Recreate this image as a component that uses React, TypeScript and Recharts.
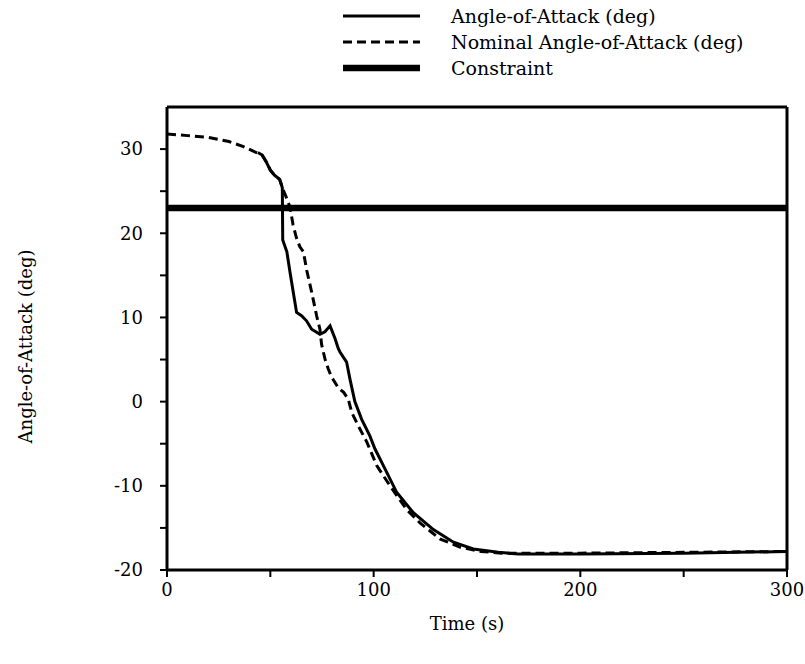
import React from "react";
import {
  LineChart,
  Line,
  XAxis,
  YAxis,
  Label,
  ReferenceLine,
} from "recharts";

// Time histories of angle-of-attack during the pull-down (deg vs s)
const actualTime = [
  44, 46, 48, 50, 52, 54.5, 55.8, 56, 58, 59.5, 61.1, 62.7, 65.1, 67.5, 70,
  74, 76.4, 78.9, 81.3, 82.9, 83.7, 86.9, 88.5, 90.9, 94.2, 98.2, 100.6,
  104.7, 111.2, 119.2, 128.9, 138.6, 148.2, 160.3, 170, 200, 250, 300,
];
const actualAoa = [
  29.6, 29.3, 28.5, 27.5, 26.9, 26.4, 25.4, 19.2, 17.8, 15.4, 13.0, 10.6,
  10.2, 9.6, 8.6, 8.0, 8.3, 9.0, 7.5, 6.3, 5.9, 4.7, 2.7, 0.0, -2.1, -4.1,
  -5.6, -7.6, -10.8, -13.2, -15.2, -16.7, -17.5, -17.9, -18.1, -18.1, -18.0,
  -17.8,
];

const nominalTime = [
  0, 10, 20, 30, 37, 43, 46, 48, 50, 52, 54.5, 56, 58, 59.5, 61, 62.7, 64.3,
  66, 67.6, 70, 72.4, 74, 74.8, 76.4, 78, 79.7, 83, 85.5, 87.7, 89.4, 92.6,
  96.7, 101.5, 107.9, 115.9, 122.4, 132, 142, 152, 162, 200, 250, 300,
];
const nominalAoa = [
  31.8, 31.6, 31.4, 30.9, 30.3, 29.6, 29.3, 28.5, 27.5, 26.9, 26.4, 25.3,
  24.1, 23.1, 21.0, 19.4, 18.4, 17.8, 15.6, 13.0, 10.2, 8.6, 6.8, 5.1, 3.9,
  2.9, 1.6, 1.1, 0.3, -1.3, -2.9, -4.8, -7.6, -10.0, -12.8, -14.4, -16.3,
  -17.3, -17.8, -18.0, -18.0, -17.9, -17.8,
];

const constraintTime = [0, 300];
const constraintAoa = [23, 23];

const xTicks = [0, 50, 100, 150, 200, 250, 300];
const yTicks = [-20, -15, -10, -5, 0, 5, 10, 15, 20, 25, 30];
const xDomain = [0, 300];
const yDomain = [-20, 35];

const seriesNames = [
  "Angle-of-Attack (deg)",
  "Nominal Angle-of-Attack (deg)",
  "Constraint",
];

const toRows = (ts: number[], vs: number[]) =>
  ts.map((t, i) => ({ t, v: vs[i] }));

const actualRows = toRows(actualTime, actualAoa);
const nominalRows = toRows(nominalTime, nominalAoa);
const constraintRows = toRows(constraintTime, constraintAoa);

const FONT = "'DejaVu Serif', serif";
const INK = "#000";

const lineStyles = [
  { strokeWidth: 3, dash: undefined as string | undefined },
  { strokeWidth: 3, dash: "9 5" },
  { strokeWidth: 6.5, dash: undefined as string | undefined },
];

function KeyBox() {
  return (
    <svg
      width={805}
      height={90}
      style={{ position: "absolute", left: 0, top: 0 }}
    >
      {seriesNames.map((name, i) => {
        const y = 16 + i * 26;
        const s = lineStyles[i];
        return (
          <g key={name}>
            <line
              x1={343}
              x2={420}
              y1={y}
              y2={y}
              stroke={INK}
              strokeWidth={s.strokeWidth}
              strokeDasharray={s.dash}
            />
            <text
              x={451}
              y={y}
              dy="0.35em"
              fontFamily={FONT}
              fontSize={19}
              fill={INK}
            >
              {name}
            </text>
          </g>
        );
      })}
    </svg>
  );
}

const tickStyle = { fontFamily: FONT, fontSize: 18, fill: INK };
const axisStroke = { stroke: INK, strokeWidth: 3 };

export default function App() {
  return (
    <div
      style={{
        position: "absolute",
        left: 0,
        top: 0,
        width: 805,
        height: 664,
        background: "#fff",
      }}
    >
      <LineChart
        width={805}
        height={664}
        margin={{ top: 107, right: 18, bottom: 54, left: 107 }}
      >
        <XAxis
          dataKey="t"
          type="number"
          domain={xDomain}
          ticks={xTicks}
          tickFormatter={(v: number) => (v % 100 === 0 ? String(v) : "")}
          tick={tickStyle}
          tickSize={7}
          tickMargin={6}
          tickLine={{ stroke: INK, strokeWidth: 2 }}
          axisLine={axisStroke}
          height={40}
          allowDataOverflow
        >
          <Label
            value="Time (s)"
            position="bottom"
            offset={7}
            dx={-10}
            style={{ fontFamily: FONT, fontSize: 18, fill: INK }}
          />
        </XAxis>
        <YAxis
          type="number"
          domain={yDomain}
          ticks={yTicks}
          tickFormatter={(v: number) => (v % 10 === 0 ? String(v) : "")}
          tick={tickStyle}
          tickSize={7}
          tickMargin={17}
          tickLine={{ stroke: INK, strokeWidth: 2 }}
          axisLine={axisStroke}
          width={60}
          allowDataOverflow
        >
          <Label
            content={(props: any) => {
              const vb = props.viewBox || { x: 107, y: 107, height: 463 };
              const cx = vb.x - 82;
              const cy = vb.y + vb.height / 2 + 8;
              return (
                <text
                  x={cx}
                  y={cy}
                  transform={`rotate(-90, ${cx}, ${cy})`}
                  textAnchor="middle"
                  dominantBaseline="central"
                  fontFamily={FONT}
                  fontSize={18}
                  fill={INK}
                >
                  Angle-of-Attack (deg)
                </text>
              );
            }}
          />
        </YAxis>
        {/* closing frame on top and right */}
        <ReferenceLine y={yDomain[1]} stroke={INK} strokeWidth={3} />
        <ReferenceLine x={xDomain[1]} stroke={INK} strokeWidth={3} />
        <Line
          data={constraintRows}
          dataKey="v"
          name={seriesNames[2]}
          type="linear"
          stroke={INK}
          strokeWidth={lineStyles[2].strokeWidth}
          dot={false}
          activeDot={false}
          isAnimationActive={false}
        />
        <Line
          data={nominalRows}
          dataKey="v"
          name={seriesNames[1]}
          type="linear"
          stroke={INK}
          strokeWidth={lineStyles[1].strokeWidth}
          strokeDasharray={lineStyles[1].dash}
          dot={false}
          activeDot={false}
          isAnimationActive={false}
        />
        <Line
          data={actualRows}
          dataKey="v"
          name={seriesNames[0]}
          type="linear"
          stroke={INK}
          strokeWidth={lineStyles[0].strokeWidth}
          dot={false}
          activeDot={false}
          isAnimationActive={false}
        />
      </LineChart>
      <KeyBox />
    </div>
  );
}
